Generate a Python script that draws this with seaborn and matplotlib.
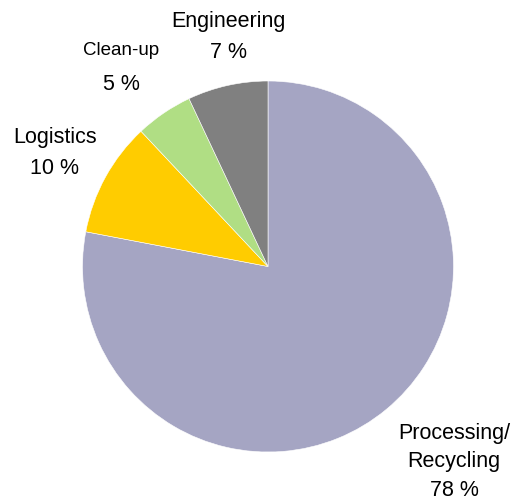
import matplotlib
matplotlib.use("Agg")
import matplotlib.pyplot as plt
import seaborn as sns

# Share of activities
categories = ["Processing/\nRecycling", "Logistics", "Clean-up", "Engineering"]
shares = [78, 10, 5, 7]
colors = ["#A5A5C3", "#FFCC00", "#B0DE84", "#808080"]

sns.set_theme(style="white")
plt.rcParams["font.family"] = ["Liberation Sans", "DejaVu Sans"]

W, H = 515, 501
fig = plt.figure(figsize=(W / 100, H / 100), dpi=100)
ax = fig.add_axes([0, 0, 1, 1])

cx, cy, r = 268, H - 266.5, 185.5
ax.pie(shares, colors=colors, startangle=90, counterclock=False,
       center=(cx, cy), radius=r, frame=True,
       wedgeprops=dict(edgecolor="white", linewidth=0.4))
ax.set_xlim(0, W)
ax.set_ylim(0, H)
ax.set_aspect("equal")
ax.axis("off")

# label anchor x, line y positions (pixels from top) and name font size
label_pos = {
    "Processing/\nRecycling": (454, [433, 462, 490], 15.5),
    "Logistics": (55, [137, 168], 15.5),
    "Clean-up": (121, [50, 84], 13.5),
    "Engineering": (228, [21, 52], 15.5),
}

for cat, val in zip(categories, shares):
    x, ys, fs = label_pos[cat]
    names = cat.split("\n")
    lines = [(n, fs) for n in names] + [(f"{val} %", 15.5)]
    for (line, size), y in zip(lines, ys):
        ax.text(x, H - y, line, ha="center", va="center", fontsize=size,
                color="black")

fig.savefig("out.png", dpi=100)
